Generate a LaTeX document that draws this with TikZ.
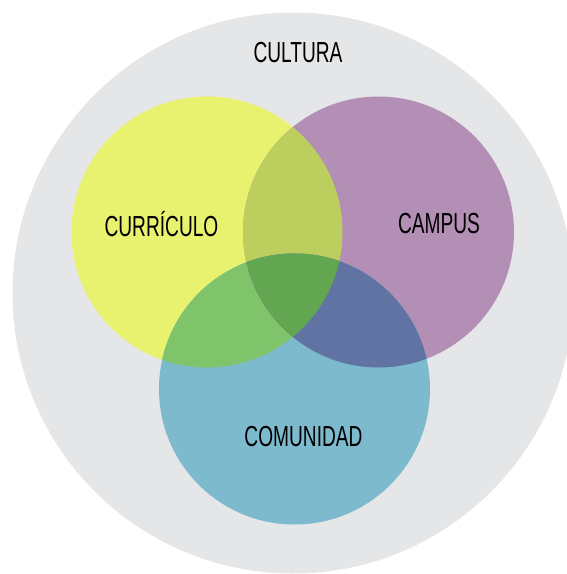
\documentclass[tikz,border=0pt]{standalone}
\usepackage{fontspec}
\setmainfont[FakeStretch=0.66]{Liberation Sans}
\definecolor{cgray}{HTML}{E5E6E8}
\definecolor{cyel}{HTML}{E8F26F}
\definecolor{cpur}{HTML}{B38FB6}
\definecolor{cblu}{HTML}{7DBACE}
\definecolor{cyp}{HTML}{BCCF5E}
\definecolor{cyb}{HTML}{7FC46A}
\definecolor{cpb}{HTML}{6173A2}
\definecolor{cypb}{HTML}{63A651}
\tikzset{lbl/.style={font=\fontsize{29}{32}\selectfont, text=black, inner sep=0pt}}
\begin{document}
\begin{tikzpicture}[x=1pt,y=-1pt]
\useasboundingbox (0,0) rectangle (567,574);
\begin{scope}
\clip (0,0) rectangle (567,574);
\fill[cgray] (293,293) circle[radius=280.5];
\end{scope}
\fill[cyel] (207,232) circle[radius=135.5];
\fill[cpur] (378.5,232) circle[radius=135.5];
\fill[cblu] (294.5,389) circle[radius=135.5];
\begin{scope}
\clip (207,232) circle[radius=135.5];
\fill[cyp] (378.5,232) circle[radius=135.5];
\fill[cyb] (294.5,389) circle[radius=135.5];
\end{scope}
\begin{scope}
\clip (378.5,232) circle[radius=135.5];
\fill[cpb] (294.5,389) circle[radius=135.5];
\end{scope}
\begin{scope}
\clip (207,232) circle[radius=135.5];
\clip (378.5,232) circle[radius=135.5];
\fill[cypb] (294.5,389) circle[radius=135.5];
\end{scope}
\node[lbl] (cultura) at (298,53) {CULTURA};
\node[lbl] (curriculo) at (161.5,224) {CURRÍCULO};
\node[lbl] (campus) at (439,224) {CAMPUS};
\node[lbl] (comunidad) at (303.5,437) {COMUNIDAD};
\end{tikzpicture}
\end{document}
